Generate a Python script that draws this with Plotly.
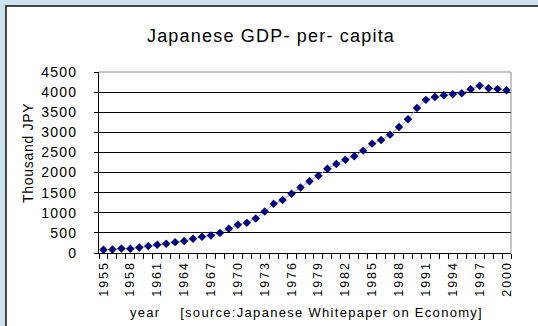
import plotly.graph_objects as go

# Japanese nominal GDP per capita, thousand yen
years = list(range(1955, 2001))
gdp_per_capita = [
    80, 85, 110, 108, 137, 171, 204, 230, 270, 296,
    353, 405, 436, 500, 602, 700, 752, 860, 1030, 1225,
    1317, 1474, 1630, 1785, 1922, 2097, 2213, 2320, 2403, 2545,
    2719, 2811, 2943, 3135, 3324, 3603, 3807, 3877, 3922, 3947,
    3972, 4071, 4156, 4096, 4075, 4046,
]
y_ticks = [0, 500, 1000, 1500, 2000, 2500, 3000, 3500, 4000, 4500]
label_years = years[::3]

title_text = "Japanese GDP- per- capita"
y_title = "Thousand JPY"
x_title = "year    [source:Japanese Whitepaper on Economy]"

FONT = "Liberation Sans, Arial, sans-serif"
PANEL_BG = "#CCE2EE"


def spaced(text, px):
    return f'<span style="letter-spacing:{px}px">{text}</span>'


W, H = 538, 326
ML, MR, MT, MB = 99, 27, 72, 73
pw, ph = W - ML - MR, H - MT - MB


def px_x(x):
    return (x - ML) / pw


def px_y(y):
    return (H - MB - y) / ph


fig = go.Figure()
fig.add_trace(go.Scatter(
    x=years,
    y=gdp_per_capita,
    mode="lines+markers",
    line=dict(color="#9A9AD6", width=1),
    marker=dict(symbol="diamond", size=6.5, color="#000080"),
    showlegend=False,
))

fig.update_layout(
    width=W,
    height=H,
    margin=dict(l=ML, r=MR, t=MT, b=MB),
    paper_bgcolor=PANEL_BG,
    plot_bgcolor="white",
    font=dict(family=FONT, color="black"),
    title=dict(
        text=spaced(title_text, 1.2),
        x=271 / W, xanchor="center",
        y=1 - 36 / H, yanchor="middle",
        font=dict(size=18, family=FONT, color="black"),
    ),
    xaxis=dict(
        range=[1954.5, 2000.5],
        tickmode="array",
        tickvals=label_years,
        ticktext=[spaced(str(y), 2) for y in label_years],
        tickangle=-90,
        tickfont=dict(size=12.5, family=FONT, color="black"),
        ticks="outside", ticklen=2, tickcolor="rgba(0,0,0,0)",
        minor=dict(tickmode="linear", tick0=1954.5, dtick=1,
                   ticks="outside", ticklen=5, tickcolor="black",
                   showgrid=False),
        showgrid=False,
        showline=True, linecolor="black", linewidth=1,
        zeroline=False,
    ),
    yaxis=dict(
        range=[0, 4500],
        tickmode="array",
        tickvals=y_ticks,
        ticktext=[spaced(str(v), 1.2) for v in y_ticks],
        tickfont=dict(size=14, family=FONT, color="black"),
        ticks="outside", ticklen=4, tickcolor="black",
        ticklabelstandoff=14,
        showgrid=True, gridcolor="black", gridwidth=1,
        showline=True, linecolor="black", linewidth=1,
        zeroline=False,
    ),
    shapes=[
        # white chart panel with dark frame
        dict(type="rect", xref="paper", yref="paper",
             x0=px_x(6), x1=px_x(W + 10), y0=px_y(H + 10), y1=px_y(6),
             fillcolor="white", line=dict(color="#111111", width=1.5),
             layer="below"),
        # grey border on top and right of the plot area
        dict(type="path", xref="paper", yref="paper",
             path="M 0,1 L 1,1 L 1,0",
             line=dict(color="#8C8C8C", width=1), layer="above"),
    ],
    annotations=[
        dict(text=spaced(y_title, 0.7), xref="paper", yref="paper",
             x=px_x(28), y=px_y(153), xanchor="center", yanchor="middle",
             textangle=-90, showarrow=False,
             font=dict(size=14, family=FONT, color="black")),
        dict(text=spaced(x_title, 1.3), xref="paper", yref="paper",
             x=px_x(306), y=px_y(312), xanchor="center", yanchor="middle",
             showarrow=False,
             font=dict(size=13, family=FONT, color="black")),
    ],
)

fig.write_html("out.html")
